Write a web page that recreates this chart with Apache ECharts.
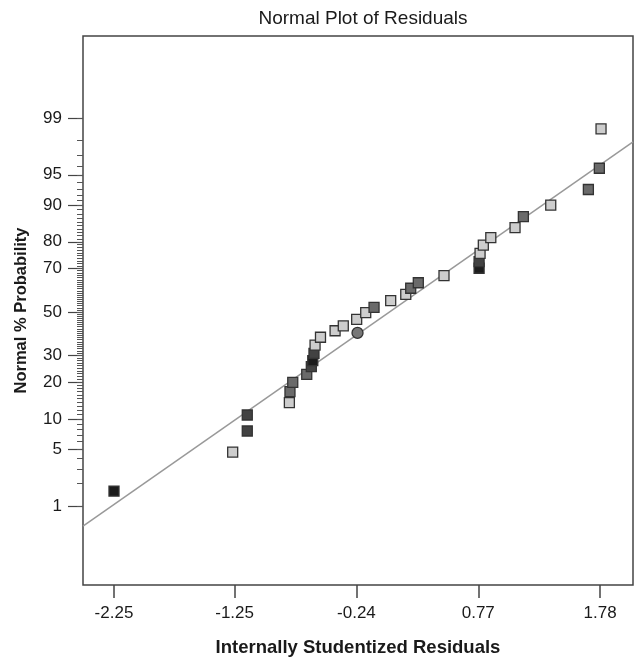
<!DOCTYPE html>
<html><head><meta charset="utf-8">
<script src="https://cdn.jsdelivr.net/npm/echarts@6/dist/echarts.min.js"></script>
<style>html,body{margin:0;padding:0;background:#fff}#c{width:637px;height:662px}</style>
</head><body><div id="c"></div>
<script>
// ---- data ----
const residuals = [-2.25, -1.266, -1.145, -1.145, -0.796, -0.791, -0.768, -0.652, -0.614, -0.602, -0.592, -0.583, -0.538, -0.417, -0.349, -0.238, -0.163, -0.094, 0.044, 0.169, 0.210, 0.273, 0.486, 0.777, 0.777, 0.785, 0.812, 0.874, 1.075, 1.144, 1.371, 1.683, 1.774, 1.788];
const probabilities = [1.59, 4.66, 7.68, 10.84, 13.84, 16.96, 19.96, 22.75, 25.6, 27.96, 31.0, 34.6, 38.1, 41.1, 43.4, 46.5, 49.7, 52.2, 55.4, 58.4, 61.2, 63.7, 66.9, 70.0, 72.7, 75.9, 78.9, 81.35, 84.4, 87.35, 90.0, 92.9, 95.76, 98.59];
const responseLevels = [4, 1, 3, 3, 1, 2, 2, 2, 3, 4, 3, 1, 1, 1, 1, 1, 1, 2, 1, 1, 2, 2, 1, 4, 3, 1, 1, 1, 1, 2, 1, 2, 2, 1];
const circleResidual = [-0.231];
const circleProbability = [40.1];
const xTickValues = [-2.25, -1.25, -0.24, 0.77, 1.78];
const yTickPercents = [1, 5, 10, 20, 30, 50, 70, 80, 90, 95, 99];
const yMinorPercents = [];
for (let p = 1; p <= 99; p++) yMinorPercents.push(p);
const fitSlope = 1.01;
const fitIntercept = -0.035;

// ---- helpers ----
function probit(pct) {
  const p = pct / 100;
  const a = [-3.969683028665376e+01, 2.209460984245205e+02, -2.759285104469687e+02, 1.383577518672690e+02, -3.066479806614716e+01, 2.506628277459239e+00];
  const b = [-5.447609879822406e+01, 1.615858368580409e+02, -1.556989798598866e+02, 6.680131188771972e+01, -1.328068155288572e+01];
  const c = [-7.784894002430293e-03, -3.223964580411365e-01, -2.400758277161838e+00, -2.549732539343734e+00, 4.374664141464968e+00, 2.938163982698783e+00];
  const d = [7.784695709041462e-03, 3.224671290700398e-01, 2.445134137142996e+00, 3.754408661907416e+00];
  const pl = 0.02425;
  let q, r;
  if (p < pl) { q = Math.sqrt(-2 * Math.log(p)); return (((((c[0]*q+c[1])*q+c[2])*q+c[3])*q+c[4])*q+c[5]) / ((((d[0]*q+d[1])*q+d[2])*q+d[3])*q+1); }
  if (p > 1 - pl) { q = Math.sqrt(-2 * Math.log(1 - p)); return -(((((c[0]*q+c[1])*q+c[2])*q+c[3])*q+c[4])*q+c[5]) / ((((d[0]*q+d[1])*q+d[2])*q+d[3])*q+1); }
  q = p - 0.5; r = q * q;
  return (((((a[0]*r+a[1])*r+a[2])*r+a[3])*r+a[4])*r+a[5])*q / (((((b[0]*r+b[1])*r+b[2])*r+b[3])*r+b[4])*r+1);
}
const yMajorZ = yTickPercents.map(probit);
const yMinorZ = yMinorPercents.map(probit);
const xMin = -2.507, xMax = 2.053, yMin = -3.273, yMax = 3.309;
const shadeColors = {1: '#cdcdcd', 2: '#6a6a6a', 3: '#424242', 4: '#1c1c1c'};

const pts = residuals.map((r, i) => [r, probit(probabilities[i]), responseLevels[i]]);
const circ = circleResidual.map((r, i) => [r, probit(circleProbability[i])]);
const fitLine = [[xMin, fitIntercept + fitSlope * xMin], [xMax, fitIntercept + fitSlope * xMax]];

const font = '"Liberation Sans", Arial, sans-serif';
const chart = echarts.init(document.getElementById('c'), null, {renderer: 'canvas'});
chart.setOption({
  animation: false,
  backgroundColor: '#fff',
  title: {
    text: 'Normal Plot of Residuals', left: 358, top: 4, textAlign: 'center',
    textStyle: {fontFamily: font, fontSize: 19, fontWeight: 'normal', color: '#1a1a1a'}
  },
  grid: {left: 83, right: 4, top: 36, bottom: 77, show: true, borderColor: '#444', borderWidth: 1.5, outerBoundsMode: 'none'},
  xAxis: {
    type: 'value', min: xMin, max: xMax, position: 'bottom',
    name: 'Internally Studentized Residuals', nameLocation: 'middle', nameGap: 53,
    nameTextStyle: {fontFamily: font, fontSize: 18.5, fontWeight: 'bold', color: '#1a1a1a'},
    axisLine: {show: false, onZero: false}, splitLine: {show: false},
    axisTick: {show: true, length: 13, customValues: xTickValues, lineStyle: {color: '#444', width: 1.5}},
    axisLabel: {customValues: xTickValues, margin: 20, fontFamily: font, fontSize: 17, color: '#1a1a1a', formatter: v => v.toFixed(2)}
  },
  yAxis: [{
    type: 'value', min: yMin, max: yMax, position: 'left',
    name: 'Normal % Probability', nameLocation: 'middle', nameGap: 53,
    nameTextStyle: {fontFamily: font, fontSize: 16.5, fontWeight: 'bold', color: '#1a1a1a'},
    axisLine: {show: false, onZero: false}, splitLine: {show: false},
    axisTick: {show: true, length: 15, customValues: yMajorZ, lineStyle: {color: '#444', width: 1.2}},
    axisLabel: {customValues: yMajorZ, margin: 21, fontFamily: font, fontSize: 17, color: '#1a1a1a',
      formatter: v => { let best = 0; yMajorZ.forEach((z, i) => { if (Math.abs(z - v) < Math.abs(yMajorZ[best] - v)) best = i; }); return String(yTickPercents[best]); }}
  }, {
    type: 'value', min: yMin, max: yMax, position: 'left',
    axisLine: {show: false, onZero: false}, splitLine: {show: false},
    axisTick: {show: true, length: 6, customValues: yMinorZ, lineStyle: {color: '#555', width: 1}},
    axisLabel: {show: false}
  }],
  series: [{
    type: 'line', data: fitLine, symbol: 'none', z: 1,
    lineStyle: {color: '#999', width: 1.5}, silent: true
  }, {
    type: 'scatter', data: pts, symbol: 'rect', symbolSize: 10, z: 3,
    itemStyle: {color: p => shadeColors[p.data[2]], borderColor: '#333', borderWidth: 1.3, opacity: 1}
  }, {
    type: 'scatter', data: circ, symbol: 'circle', symbolSize: 11, z: 3,
    itemStyle: {color: '#777', borderColor: '#333', borderWidth: 1.3, opacity: 1}
  }]
});
</script></body></html>
